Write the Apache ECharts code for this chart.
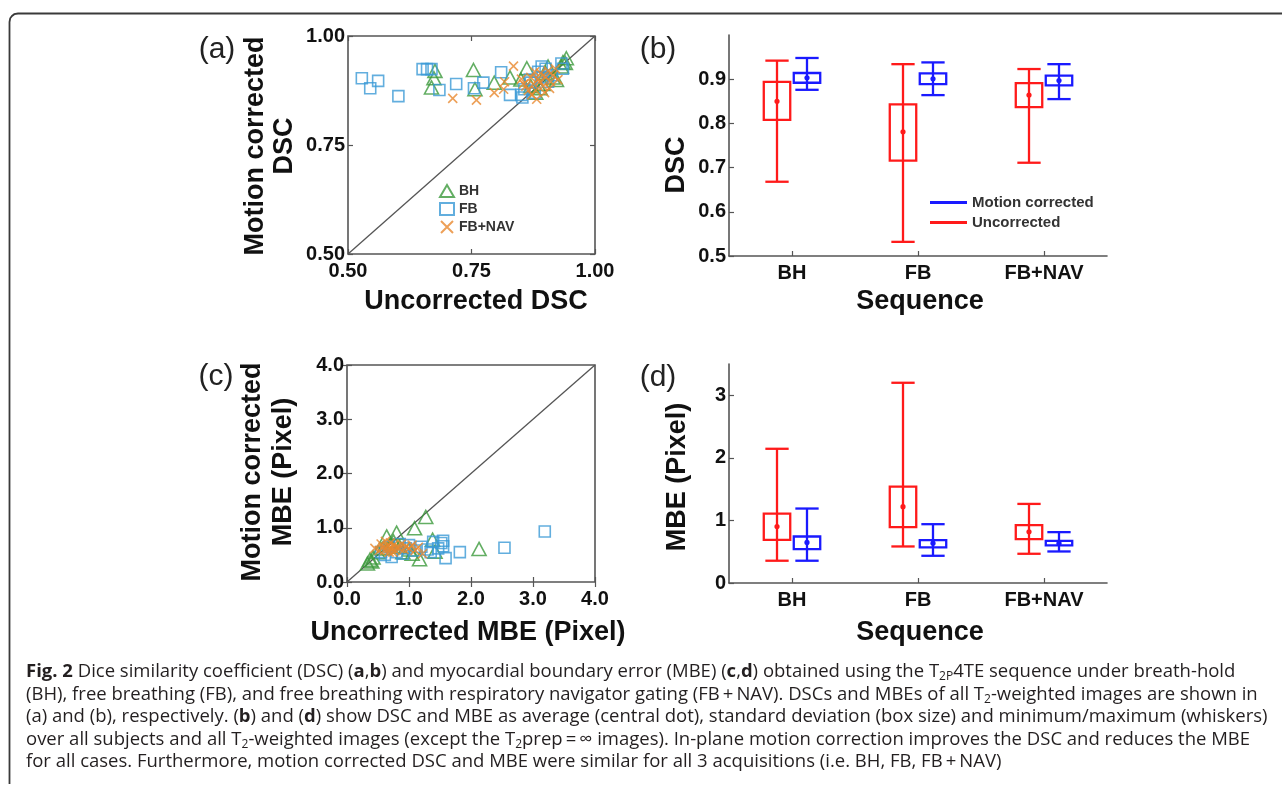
<!DOCTYPE html>
<html>
<head>
<meta charset="utf-8">
<script src="https://cdn.jsdelivr.net/npm/echarts@6/dist/echarts.min.js"></script>
<style>
  html, body { margin: 0; padding: 0; background: #fff; }
  #chart { width: 1282px; height: 793px; }
</style>
</head>
<body>
<div id="chart"></div>
<script>
// Acquisition sequences
const sequences = ['BH', 'FB', 'FB+NAV'];

// DSC per image: [uncorrected, motion corrected]
const dscBH = [[0.676,0.920],[0.674,0.903],[0.669,0.882],[0.754,0.922],[0.757,0.878],[0.796,0.893],
  [0.828,0.905],[0.862,0.926],[0.942,0.949],[0.932,0.930],[0.889,0.880],[0.922,0.899],[0.880,0.870],
  [0.870,0.885],[0.900,0.915],[0.935,0.940],[0.915,0.905],[0.895,0.890],[0.850,0.900],[0.905,0.930],
  [0.940,0.938]];
const dscFB = [[0.528,0.903],[0.545,0.880],[0.561,0.897],[0.602,0.862],[0.651,0.924],[0.660,0.924],
  [0.669,0.924],[0.685,0.876],[0.719,0.890],[0.755,0.880],[0.774,0.893],[0.810,0.917],[0.828,0.865],
  [0.851,0.865],[0.853,0.859],[0.857,0.878],[0.870,0.893],[0.885,0.918],[0.892,0.930],[0.894,0.905],
  [0.900,0.925],[0.905,0.895],[0.912,0.910],[0.932,0.937],[0.935,0.925],[0.878,0.870],[0.868,0.900]];
const dscNAV = [[0.835,0.931],[0.712,0.857],[0.760,0.853],[0.796,0.870],[0.815,0.878],[0.817,0.895],
  [0.851,0.901],[0.882,0.855],[0.860,0.885],[0.870,0.905],[0.875,0.890],[0.880,0.875],[0.885,0.900],
  [0.890,0.915],[0.895,0.885],[0.900,0.905],[0.905,0.920],[0.910,0.895],[0.915,0.910],[0.920,0.925],
  [0.865,0.875],[0.878,0.918],[0.898,0.870],[0.908,0.880],[0.925,0.900],[0.888,0.895],[0.872,0.865],
  [0.855,0.890]];

// MBE per image (pixel): [uncorrected, motion corrected]
const mbeBH = [[1.27,1.20],[1.09,0.99],[0.80,0.91],[2.13,0.61],[1.17,0.42],[1.38,0.78],[1.42,0.56],
  [0.37,0.41],[0.33,0.34],[0.64,0.84],[0.42,0.45],[0.40,0.38],[0.75,0.75],[0.90,0.55],[1.00,0.60],
  [0.58,0.62],[0.70,0.70],[1.05,0.52],[0.85,0.65],[0.50,0.55]];
const mbeFB = [[3.19,0.93],[2.54,0.63],[1.82,0.55],[1.59,0.44],[1.55,0.76],[1.55,0.66],[1.52,0.72],
  [1.39,0.74],[1.47,0.62],[1.30,0.60],[0.72,0.46],[0.61,0.50],[0.85,0.70],[0.95,0.62],[1.10,0.58],
  [0.80,0.55],[0.68,0.65],[1.00,0.68],[0.90,0.52],[0.55,0.55],[1.20,0.65],[1.35,0.55]];
const mbeNAV = [[0.45,0.62],[0.55,0.70],[0.60,0.58],[0.62,0.75],[0.65,0.66],[0.68,0.55],[0.70,0.72],
  [0.72,0.62],[0.75,0.68],[0.78,0.58],[0.80,0.65],[0.85,0.62],[0.88,0.70],[0.92,0.60],[0.95,0.66],
  [1.00,0.62],[1.05,0.68],[1.10,0.58],[1.15,0.64],[1.22,0.52],[0.58,0.64],[0.66,0.60],[0.74,0.55],
  [0.52,0.58]];

// Summary per sequence: [min, mean - SD, mean, mean + SD, max]
const dscUncorrected = [[0.668,0.808,0.850,0.894,0.942],[0.532,0.716,0.781,0.843,0.934],[0.711,0.837,0.864,0.891,0.923]];
const dscCorrected   = [[0.876,0.892,0.903,0.914,0.948],[0.864,0.889,0.901,0.913,0.938],[0.855,0.886,0.897,0.908,0.934]];
const mbeUncorrected = [[0.356,0.690,0.903,1.110,2.145],[0.584,0.892,1.220,1.540,3.200],[0.467,0.700,0.818,0.924,1.264]];
const mbeCorrected   = [[0.356,0.540,0.648,0.743,1.190],[0.435,0.568,0.637,0.685,0.940],[0.504,0.600,0.637,0.674,0.813]];

const GREEN = '#3c9a3c', BLUE = '#3b9ad6', ORANGE = '#e8882e';
const RED = '#ff1a1a', DBLUE = '#1a1aff';
const AX = '#555';
const FONT = '"Liberation Sans", Arial, sans-serif';

const chart = echarts.init(document.getElementById('chart'), null, { renderer: 'canvas' });

const tickLabel = { fontFamily: FONT, fontWeight: 'bold', fontSize: 20, color: '#111' };

function scatterAxes(gridIndex, min, max, interval, digits) {
  const fmt = v => v.toFixed(digits);
  const tick = { show: true, inside: true, length: 5, lineStyle: { color: AX, width: 1.2 } };
  return {
    x: [
      { type: 'value', gridIndex, min, max, interval, position: 'bottom',
        axisLine: { show: false }, axisTick: tick, splitLine: { show: false },
        axisLabel: Object.assign({ formatter: fmt, margin: 7 }, tickLabel) },
      { type: 'value', gridIndex, min, max, interval, position: 'top',
        axisLine: { show: false }, axisTick: tick, splitLine: { show: false },
        axisLabel: { show: false } }
    ],
    y: [
      { type: 'value', gridIndex, min, max, interval, position: 'left',
        axisLine: { show: false }, axisTick: tick, splitLine: { show: false },
        axisLabel: Object.assign({ formatter: fmt, margin: 3 }, tickLabel) },
      { type: 'value', gridIndex, min, max, interval, position: 'right',
        axisLine: { show: false }, axisTick: tick, splitLine: { show: false },
        axisLabel: { show: false } }
    ]
  };
}

function boxAxes(gridIndex, min, max, interval, fmt) {
  const line = { show: true, lineStyle: { color: AX, width: 1.6 } };
  const tick = { show: true, inside: true, length: 5, lineStyle: { color: AX, width: 1.2 } };
  return {
    x: { type: 'category', gridIndex, data: sequences, boundaryGap: true,
      axisLine: line, axisTick: Object.assign({ alignWithLabel: true }, tick),
      axisLabel: Object.assign({ margin: 7 }, tickLabel), splitLine: { show: false } },
    y: { type: 'value', gridIndex, min, max, interval,
      axisLine: line, axisTick: tick, splitLine: { show: false },
      axisLabel: Object.assign({ formatter: fmt, margin: 3, showMaxLabel: false }, tickLabel) }
  };
}

const axA = scatterAxes(0, 0.5, 1.0, 0.25, 2);
const axB = boxAxes(1, 0.5, 1.0, 0.1, v => v.toFixed(1));
const axC = scatterAxes(2, 0, 4, 1, 1);
const axD = boxAxes(3, 0, 3.5, 1, v => String(v));

// Box with mean dot and min/max whiskers, shifted inside the category band
function boxRender(color, shift) {
  return function (params, api) {
    const cat = api.value(0);
    const band = api.size([1, 0])[0];
    const cx = api.coord([cat, api.value(3)])[0] + shift * band;
    const y = i => api.coord([cat, api.value(i)])[1];
    const yMin = y(1), yLo = y(2), yMean = y(3), yHi = y(4), yMax = y(5);
    const cap = band * 0.185, box = band * 0.21;
    const st = { stroke: color, lineWidth: 2.3, fill: null };
    return {
      type: 'group',
      children: [
        { type: 'line', shape: { x1: cx, y1: yMax, x2: cx, y2: yMin }, style: st },
        { type: 'line', shape: { x1: cx - cap / 2, y1: yMax, x2: cx + cap / 2, y2: yMax }, style: st },
        { type: 'line', shape: { x1: cx - cap / 2, y1: yMin, x2: cx + cap / 2, y2: yMin }, style: st },
        { type: 'rect', shape: { x: cx - box / 2, y: yHi, width: box, height: yLo - yHi }, style: st },
        { type: 'circle', shape: { cx: cx, cy: yMean, r: 2.6 }, style: { fill: color } }
      ]
    };
  };
}

const withIndex = stats => stats.map((s, i) => [i].concat(s));

const CROSS = 'path://M0,0L10,10M10,0L0,10';
function scatterSeries(name, data, xi, yi) {
  const base = { name, type: 'scatter', xAxisIndex: xi, yAxisIndex: yi, data, z: 3 };
  if (name === 'BH') {
    return Object.assign(base, { symbol: 'triangle', symbolSize: [14, 13],
      itemStyle: { color: 'rgba(0,0,0,0)', borderColor: GREEN, borderWidth: 1.6 } });
  }
  if (name === 'FB') {
    return Object.assign(base, { symbol: 'rect', symbolSize: 11,
      itemStyle: { color: 'rgba(0,0,0,0)', borderColor: BLUE, borderWidth: 1.6 } });
  }
  return Object.assign(base, { symbol: CROSS, symbolSize: 9,
    itemStyle: { color: 'rgba(0,0,0,0)', borderColor: ORANGE, borderWidth: 1.6 } });
}

function diagonal(xi, yi, lo, hi) {
  return { type: 'line', xAxisIndex: xi, yAxisIndex: yi, data: [[lo, lo], [hi, hi]],
    symbol: 'none', silent: true, z: 1, lineStyle: { color: '#555', width: 1.3 } };
}

function boxSeries(name, stats, color, shift, xi, yi) {
  return { name, type: 'custom', xAxisIndex: xi, yAxisIndex: yi, data: withIndex(stats),
    renderItem: boxRender(color, shift), itemStyle: { color }, z: 3,
    encode: { x: 0, y: [1, 2, 3, 4, 5] } };
}

function txt(text, x, y, opts) {
  opts = opts || {};
  return {
    type: 'text', x, y, rotation: opts.rotation || 0, z: 10,
    style: {
      text, fill: opts.fill || '#111',
      font: opts.font,
      textAlign: opts.align || 'center', align: opts.align || 'center',
      textVerticalAlign: 'middle', verticalAlign: 'middle',
      lineHeight: opts.lineHeight
    }
  };
}

const titleFont = 'bold 27px ' + FONT;
const panelFont = 'normal 30px ' + FONT;

// Caption lines with bold panel references and subscripts
const CAP_FONT = '"Open Sans", "Noto Sans", sans-serif';
const CAP_SIZE = 18.5;
const captionLines = [
  '{b|Fig. 2} Dice similarity coefficient (DSC) ({b|a},{b|b}) and myocardial boundary error (MBE) ({b|c},{b|d}) obtained using the T{s|2P}4TE sequence under breath-hold',
  '(BH), free breathing (FB), and free breathing with respiratory navigator gating (FB\u2009+\u2009NAV). DSCs and MBEs of all T{s|2}-weighted images are shown in',
  '(a) and (b), respectively. ({b|b}) and ({b|d}) show DSC and MBE as average (central dot), standard deviation (box size) and minimum/maximum (whiskers)',
  'over all subjects and all T{s|2}-weighted images (except the T{s|2}prep\u2009=\u2009\u221e images). In-plane motion correction improves the DSC and reduces the MBE',
  'for all cases. Furthermore, motion corrected DSC and MBE were similar for all 3 acquisitions (i.e. BH, FB, FB\u2009+\u2009NAV)'
];
const captionY = [672, 695, 717, 740, 762];

const captionGraphics = captionLines.map((line, i) => ({
  type: 'text', x: 26, y: captionY[i], z: 10,
  style: {
    text: line, fill: '#231f20',
    fontFamily: CAP_FONT, fontSize: CAP_SIZE, lineHeight: 22,
    textAlign: 'left', align: 'left', textVerticalAlign: 'middle', verticalAlign: 'middle',
    rich: {
      b: { fontFamily: CAP_FONT, fontSize: CAP_SIZE, fontWeight: 'bold', lineHeight: 22 },
      s: { fontFamily: CAP_FONT, fontSize: 12, lineHeight: 9, verticalAlign: 'bottom' }
    }
  }
}));

// Figure frame: left edge, rounded top-left corner, top edge
const frameGraphic = {
  type: 'polyline', z: 0, silent: true,
  shape: { points: [[9.5, 784], [9.5, 22], [10.2, 18.3], [12, 16], [14.3, 14.2], [18, 13.5], [1290, 13.5]] },
  style: { fill: null, stroke: '#3a3a3a', lineWidth: 1.8 }
};

const option = {
  backgroundColor: '#fff',
  animation: false,
  grid: [
    { left: 348, top: 36, width: 247, height: 218, show: true, borderColor: AX, borderWidth: 1.6, backgroundColor: 'transparent' },
    { left: 729, top: 35, width: 378, height: 221 },
    { left: 347, top: 365, width: 248, height: 217, show: true, borderColor: AX, borderWidth: 1.6, backgroundColor: 'transparent' },
    { left: 729, top: 364, width: 378, height: 219 }
  ],
  xAxis: [axA.x[0], axA.x[1], axB.x, axC.x[0], axC.x[1], axD.x],
  yAxis: [axA.y[0], axA.y[1], axB.y, axC.y[0], axC.y[1], axD.y],
  legend: [
    { data: ['BH', 'FB', 'FB+NAV'], orient: 'vertical', left: 439, top: 184,
      itemWidth: 14, itemHeight: 12, itemGap: 4, padding: 0, selectedMode: false,
      textStyle: { fontFamily: FONT, fontWeight: 'bold', fontSize: 14, color: '#333' } },
    { data: [{ name: 'Motion corrected', icon: 'rect' }, { name: 'Uncorrected', icon: 'rect' }],
      orient: 'vertical', left: 930, top: 195, itemWidth: 37, itemHeight: 3, itemGap: 5, padding: 0,
      selectedMode: false,
      textStyle: { fontFamily: FONT, fontWeight: 'bold', fontSize: 15, color: '#333' } }
  ],
  series: [
    diagonal(0, 0, 0.5, 1.0),
    scatterSeries('BH', dscBH, 0, 0),
    scatterSeries('FB', dscFB, 0, 0),
    scatterSeries('FB+NAV', dscNAV, 0, 0),
    boxSeries('Uncorrected', dscUncorrected, RED, -0.119, 2, 2),
    boxSeries('Motion corrected', dscCorrected, DBLUE, 0.119, 2, 2),
    diagonal(3, 3, 0, 4),
    scatterSeries('BH', mbeBH, 3, 3),
    scatterSeries('FB', mbeFB, 3, 3),
    scatterSeries('FB+NAV', mbeNAV, 3, 3),
    boxSeries('Uncorrected', mbeUncorrected, RED, -0.119, 5, 5),
    boxSeries('Motion corrected', mbeCorrected, DBLUE, 0.119, 5, 5)
  ],
  graphic: [
    frameGraphic,
    // panel labels
    txt('(a)', 217, 50, { font: panelFont, fill: '#222' }),
    txt('(b)', 658, 50, { font: panelFont, fill: '#222' }),
    txt('(c)', 216, 377, { font: panelFont, fill: '#222' }),
    txt('(d)', 658, 378, { font: panelFont, fill: '#222' }),
    // axis titles
    txt('Uncorrected DSC', 476, 302, { font: titleFont }),
    txt('Motion corrected\nDSC', 270, 146, { font: titleFont, rotation: Math.PI / 2, lineHeight: 29 }),
    txt('Sequence', 920, 302, { font: titleFont }),
    txt('DSC', 677, 165, { font: titleFont, rotation: Math.PI / 2 }),
    txt('Uncorrected MBE (Pixel)', 468, 633, { font: titleFont }),
    txt('Motion corrected\nMBE (Pixel)', 268, 472, { font: titleFont, rotation: Math.PI / 2, lineHeight: 31 }),
    txt('Sequence', 920, 633, { font: titleFont }),
    txt('MBE (Pixel)', 678, 477, { font: titleFont, rotation: Math.PI / 2 })
  ].concat(captionGraphics)
};

chart.setOption(option);
</script>
</body>
</html>
